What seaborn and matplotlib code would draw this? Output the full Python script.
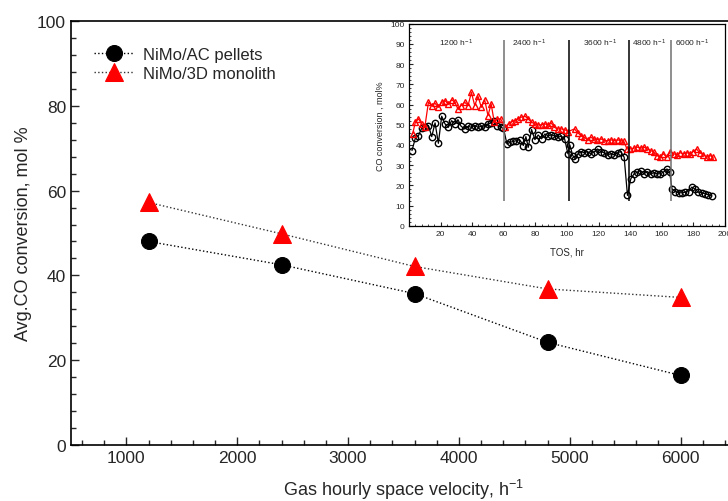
import numpy as np
import pandas as pd
import matplotlib
matplotlib.use("Agg")
import matplotlib.pyplot as plt
from matplotlib.ticker import MultipleLocator
import seaborn as sns

sns.set_style("white")
plt.rcParams['font.family'] = ['Liberation Sans', 'DejaVu Sans']
plt.rcParams['mathtext.fontset'] = 'custom'
plt.rcParams['mathtext.rm'] = 'Liberation Sans'
plt.rcParams['mathtext.it'] = 'Liberation Sans:italic'

# main chart: average CO conversion vs GHSV
ghsv = [1200, 2400, 3600, 4800, 6000]
avg_pellets = [48.0, 42.5, 35.7, 24.2, 16.4]
avg_monolith = [57.2, 49.8, 42.1, 36.8, 34.8]

# inset: CO conversion vs time on stream
tos_pellets = [1.9, 4, 6, 8, 10, 12.3, 14.4, 16.5, 18.6, 20.7,
               22.8, 24.9, 27, 29, 31, 33, 35.3, 37.4, 39.5, 41.6,
               43.7, 45.8, 47.9, 50, 52, 54, 56, 58, 59.8, 62,
               64, 66, 68, 70, 72.4, 74, 75.5, 77.6, 79.7, 81.8,
               83.9, 86, 88, 90, 92, 94.3, 96.4, 98.5, 100.6, 101.8,
               103.7, 105.2, 107, 109, 111, 113, 115, 117, 119.4, 121.5,
               123.6, 125.7, 127.8, 130, 132, 134, 136.2, 138.3, 140.4, 142.5,
               144.5, 146.6, 148.7, 150.8, 153, 155, 157, 159, 161, 163.3,
               165, 166.5, 168.6, 170.7, 172.8, 175, 177, 179, 181, 183,
               185.3, 187.4, 189.5, 191.6]
co_pellets = [37.2, 43.3, 44.6, 48.2, 48.7, 49.6, 44.1, 50.9, 40.8, 54.2,
              50.4, 48.7, 52.0, 50.4, 52.5, 49.2, 47.9, 49.2, 48.7, 49.6,
              48.7, 49.2, 48.7, 50.4, 50.9, 52.0, 49.6, 48.7, 48.2, 40.5,
              41.3, 41.7, 42.1, 42.6, 39.7, 44.1, 38.8, 47.6, 42.6, 44.9,
              43.0, 45.4, 44.6, 44.9, 44.6, 43.8, 44.3, 43.0, 35.6, 40.0,
              34.7, 33.1, 35.6, 36.7, 36.1, 36.7, 35.6, 36.4, 38.0, 36.7,
              36.1, 35.1, 35.6, 35.1, 36.1, 36.7, 33.9, 15.0, 23.2, 25.7,
              26.5, 27.3, 25.7, 26.8, 25.7, 26.2, 25.7, 25.7, 26.5, 28.1,
              26.5, 18.2, 16.9, 16.3, 16.3, 16.6, 16.9, 19.1, 18.2, 16.6,
              16.3, 15.8, 15.3, 14.6]
tos_monolith = [2.3, 4, 6, 8, 10, 12.3, 14.4, 16.5, 18.6, 20.7,
                22.8, 24.9, 27, 29, 31, 33, 35.3, 37.4, 39.5, 41.6,
                43.7, 45.8, 47.9, 50, 52, 54, 56, 58, 60.8, 63,
                65, 67, 69, 71, 73.4, 75.5, 77.6, 79.7, 81.8, 83.9,
                86, 88, 90, 92, 94.3, 96.4, 98.5, 100.6, 104.8, 106.9,
                109, 111, 113, 115, 117, 119, 121.5, 123.6, 125.7, 127.8,
                130, 132, 134, 136, 138, 140, 142.5, 144.5, 146.6, 148.7,
                150.8, 153, 155, 157, 159, 161, 163.3, 165.4, 167.5, 169.6,
                171.7, 173.8, 176, 178, 180, 182, 184, 186.4, 188.5, 190.5,
                192.6]
co_monolith = [45.4, 51.2, 52.9, 50.4, 48.7, 61.1, 59.5, 60.6, 58.6, 61.1,
               61.9, 60.3, 62.4, 61.1, 57.8, 59.5, 61.1, 59.5, 66.0, 59.5,
               64.0, 58.6, 62.4, 54.5, 60.3, 51.2, 52.9, 52.9, 48.7, 50.4,
               51.5, 52.0, 52.9, 53.7, 54.2, 52.9, 51.2, 50.4, 49.9, 49.9,
               50.4, 49.9, 50.9, 48.7, 47.9, 47.9, 47.6, 46.6, 47.9, 45.9,
               44.6, 43.8, 42.6, 43.8, 43.0, 42.6, 43.0, 42.1, 42.1, 42.5,
               42.1, 42.5, 42.1, 41.7, 38.0, 38.0, 38.4, 38.9, 38.4, 38.9,
               38.0, 37.2, 36.4, 34.7, 33.9, 35.6, 33.9, 36.7, 35.6, 35.1,
               36.1, 35.6, 36.1, 35.6, 36.7, 38.0, 36.1, 35.1, 33.9, 34.7,
               33.9]

# segment boundaries and labels in the inset
switch_tos = [60, 101, 139, 166]
switch_colors = ['#707070', 'black', 'black', '#707070']
segment_labels = ['1200', '2400', '3600', '4800', '6000']
segment_label_x = [30, 76, 121, 152, 179]

fig = plt.figure(figsize=(7.28, 5.02), dpi=100)
ax = fig.add_axes([0.0975, 0.1116, 0.9135, 0.8446])

sns.lineplot(x=ghsv, y=avg_pellets, ax=ax, color='black', linestyle=':',
             linewidth=1, marker='o', markersize=11.5, markerfacecolor='black',
             markeredgecolor='black', label='NiMo/AC pellets')
sns.lineplot(x=ghsv, y=avg_monolith, ax=ax, color='#333333', linestyle=':',
             linewidth=1, marker='^', markersize=13, markerfacecolor='red',
             markeredgecolor='red', label='NiMo/3D monolith')

ax.set_xlim(500, 6500)
ax.set_ylim(0, 100)
ax.xaxis.set_major_locator(MultipleLocator(1000))
ax.xaxis.set_minor_locator(MultipleLocator(200))
ax.yaxis.set_major_locator(MultipleLocator(20))
ax.yaxis.set_minor_locator(MultipleLocator(4))
ax.tick_params(which='both', direction='in', bottom=True, left=True, labelsize=12.5)
ax.tick_params(which='major', length=6, width=1)
ax.tick_params(which='minor', length=3.5, width=1)
for s in ['left', 'top', 'bottom']:
    ax.spines[s].set_color('black')
    ax.spines[s].set_linewidth(1.2)
ax.spines['right'].set_visible(False)
ax.set_xlabel('Gas hourly space velocity, h$^{-1}$', fontsize=13, labelpad=9)
ax.set_ylabel('Avg.CO conversion, mol %', fontsize=13, labelpad=4)
ax.legend(loc='upper left', bbox_to_anchor=(0.025, 0.955), frameon=False,
          fontsize=12, handlelength=2.4, handletextpad=0.5, labelspacing=0.25,
          borderaxespad=0, borderpad=0.4)

# inset
axi = fig.add_axes([0.5618, 0.5484, 0.434, 0.4024])
sns.lineplot(x=tos_pellets, y=co_pellets, ax=axi, sort=False, color='black',
             linewidth=0.9, marker='o', markersize=4.6, markerfacecolor='none',
             markeredgecolor='black', markeredgewidth=1.0)
sns.lineplot(x=tos_monolith, y=co_monolith, ax=axi, sort=False, color='red',
             linewidth=0.9, marker='^', markersize=4.8, markerfacecolor='none',
             markeredgecolor='red', markeredgewidth=1.0)
axi.vlines(switch_tos, 12, 92, colors=switch_colors, linewidth=1.1)
for lab, xl in zip(segment_labels, segment_label_x):
    axi.text(xl, 91, lab + ' h$^{-1}$', fontsize=6, ha='center', va='center')

axi.set_xlim(0, 200)
axi.set_ylim(0, 100)
axi.set_xticks([20, 40, 60, 80, 100, 120, 140, 160, 180, 200])
axi.xaxis.set_minor_locator(MultipleLocator(4))
axi.yaxis.set_major_locator(MultipleLocator(10))
axi.yaxis.set_minor_locator(MultipleLocator(2))
axi.tick_params(which='both', direction='in', bottom=True, left=True,
                labelsize=6, pad=3)
axi.tick_params(which='major', length=3, width=0.8)
axi.tick_params(which='minor', length=1.5, width=0.6)
for s in axi.spines.values():
    s.set_color('black')
    s.set_linewidth(0.9)
axi.set_xlabel('TOS, hr', fontsize=7, labelpad=7)
axi.set_ylabel('CO conversion , mol%', fontsize=6.5, labelpad=4)
axi.set_facecolor('white')

fig.savefig('out.png', dpi=100)
